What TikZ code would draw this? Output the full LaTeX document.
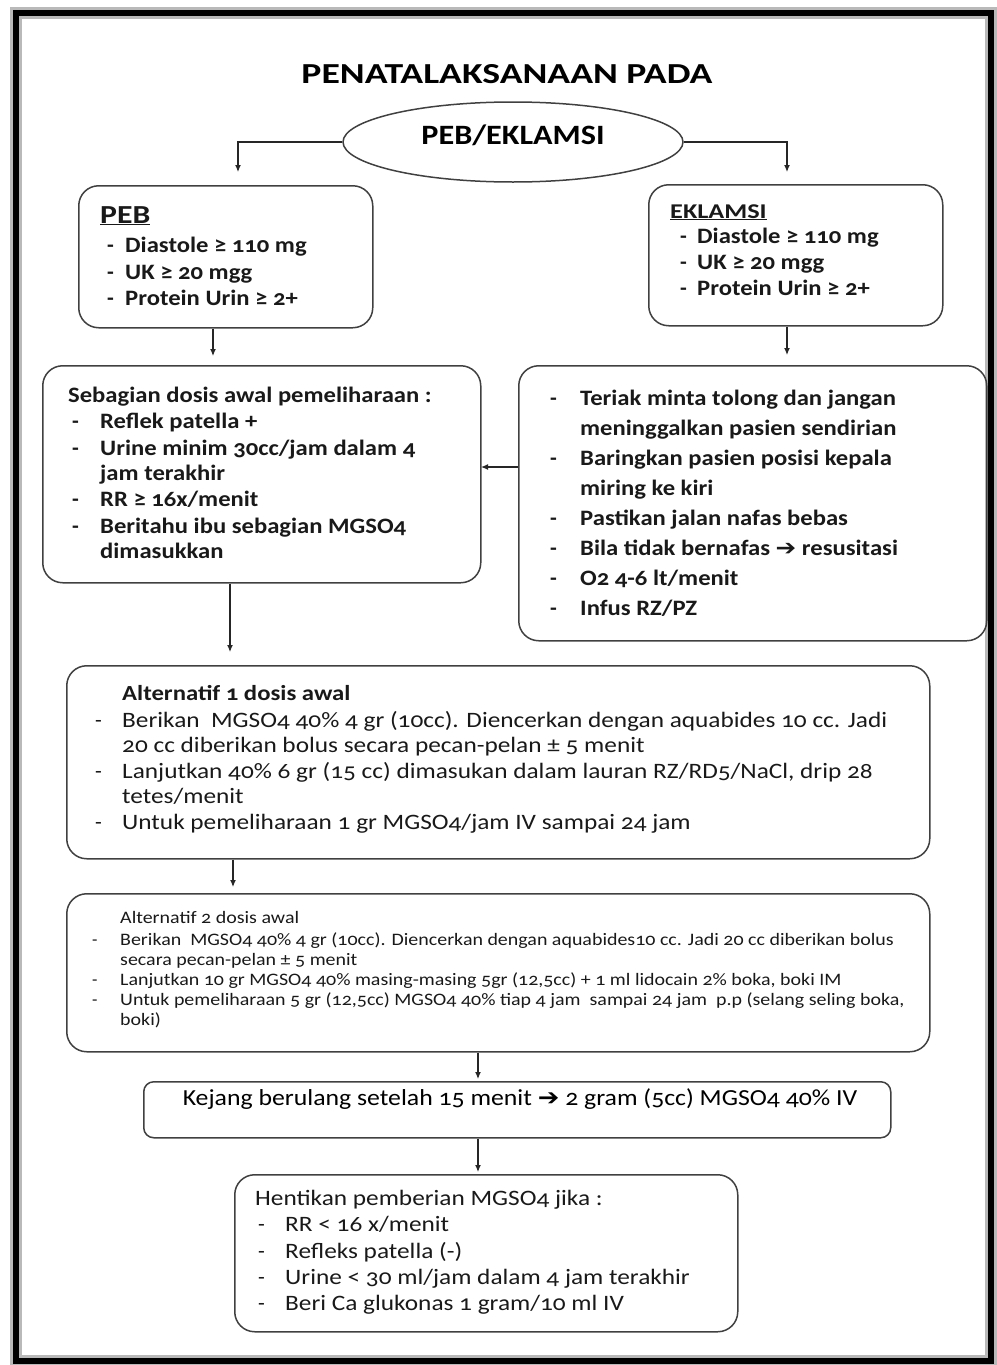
\documentclass[tikz,border=0pt]{standalone}
\usepackage{graphicx}
\usepackage{fontspec}
\setmainfont{Carlito}[Numbers=OldStyle]
\newfontfamily\symfont{DejaVu Sans}
\usetikzlibrary{arrows.meta,shapes.geometric}
\newcommand{\fs}[2]{\fontsize{#1}{#2}\selectfont}
\newcommand{\rar}{{\symfont\char"2794}}
\newcommand{\Ux}[1]{\scalebox{1.12}[1]{#1}}
\newcommand{\Lx}[1]{\scalebox{1.15}[1]{#1}}
\newcommand{\Sx}[1]{\scalebox{1.14}[1]{#1}}
\tikzset{
  box/.style={draw=black!75, line width=1.5pt, rounded corners=20pt, anchor=north west, inner sep=0pt},
  arr/.style={draw=black!85, line width=1.2pt, -{Latex[length=7pt,width=6pt]}},
  ln/.style={anchor=base west, inner sep=0pt, text=black!90},
  up/.style={ln, font=\bfseries\fs{22}{26}},
  lo/.style={ln, font=\fs{22}{26}},
  sm/.style={ln, font=\fs{17.5}{20}},
}
\begin{document}
\begin{tikzpicture}[x=1pt,y=-1pt]
\useasboundingbox (0,0) rectangle (996,1365);
% frame
\draw[gray!55, line width=12pt] (16,12.5) rectangle (991,1361);
\draw[black, line width=6pt] (16,12.5) rectangle (991,1361);

% title
\node[anchor=base, inner sep=0pt, font=\bfseries\fs{29}{34}] (title) at (507,83) {\scalebox{1.3}[1]{PENATALAKSANAAN PADA}};
\node[draw=black!75, line width=1.5pt, ellipse, minimum width=340pt, minimum height=80pt, inner sep=0pt] (root) at (513,142) {};
\node[anchor=base, inner sep=0pt, font=\bfseries\fs{28}{32}] (roott) at (513,144) {\scalebox{1.15}[1]{PEB/EKLAMSI}};

% boxes
\node[box, minimum width=294pt, minimum height=142pt] (peb) at (78,185) {};
\node[box, minimum width=294pt, minimum height=141pt] (ekl) at (648,184) {};
\node[box, minimum width=438pt, minimum height=217pt] (seb) at (42,365) {};
\node[box, minimum width=468pt, minimum height=275pt] (ter) at (518,365) {};
\node[box, minimum width=863pt, minimum height=193pt] (alt1) at (66,665) {};
\node[box, minimum width=863pt, minimum height=158pt] (alt2) at (66,893) {};
\node[box, minimum width=747pt, minimum height=56pt, rounded corners=10pt] (kej) at (143,1081) {};
\node[box, minimum width=503pt, minimum height=157pt] (hen) at (234,1174) {};

% arrow end points
\coordinate (e1) at (238,172);
\coordinate (e2) at (787,172);
\coordinate (e3) at (213,356);
\coordinate (e4) at (787,355);
\coordinate (e5) at (481,467);
\coordinate (e6) at (230,652);
\coordinate (e7) at (233,887);
\coordinate (e8) at (478,1079);
\coordinate (e9) at (478,1172);

\draw[arr] (root.west) -| (e1);
\draw[arr] (root.east) -| (e2);
\draw[arr] (e3 |- peb.south) -- (e3);
\draw[arr] (e4 |- ekl.south) -- (e4);
\draw[arr] (ter.west |- e5) -- (e5);
\draw[arr] (e6 |- seb.south) -- (e6);
\draw[arr] (e7 |- alt1.south) -- (e7);
\draw[arr] (e8 |- alt2.south) -- (e8);
\draw[arr] (e9 |- kej.south) -- (e9);

% PEB
\node[ln, font=\bfseries\fs{26}{30}] (p0) at (100,223) {\underline{\scalebox{1.22}[1]{PEB}}};
\foreach \y/\t [count=\i] in {252/{Diastole ≥ 110 mg}, 279/{UK ≥ 20 mgg}, 305/{Protein Urin ≥ 2+}}{
  \node[up] (pd\i) at (107,\y) {-};
  \node[up] (p\i) at (125,\y) {\Ux{\t}};
}
% EKLAMSI
\node[ln, font=\bfseries\fs{21}{24}] (k0) at (670,218) {\underline{\scalebox{1.25}[1]{EKLAMSI}}};
\foreach \y/\t [count=\i] in {243/{Diastole ≥ 110 mg}, 269/{UK ≥ 20 mgg}, 295/{Protein Urin ≥ 2+}}{
  \node[up] (kd\i) at (680,\y) {-};
  \node[up] (k\i) at (697,\y) {\Ux{\t}};
}
% Sebagian
\node[up] (s0) at (68,402) {\Ux{Sebagian dosis awal pemeliharaan :}};
\foreach \y in {428,455,506,533}{ \node[up] (sd\y) at (72,\y) {-}; }
\foreach \y/\t [count=\i] in {428/{Reflek patella +}, 455/{Urine minim 30cc/jam dalam 4}, 480/{jam terakhir}, 506/{RR ≥ 16x/menit}, 533/{Beritahu ibu sebagian MGSO4}, 558/{dimasukkan}}{
  \node[up] (s\i) at (100,\y) {\Ux{\t}};
}
% Teriak
\foreach \y in {405,465,525,555,585,615}{ \node[up] (td\y) at (550,\y) {-}; }
\foreach \y/\t [count=\i] in {405/{Teriak minta tolong dan jangan}, 435/{meninggalkan pasien sendirian}, 465/{Baringkan pasien posisi kepala}, 495/{miring ke kiri}, 525/{Pastikan jalan nafas bebas}, 555/{Bila tidak bernafas \rar{} resusitasi}, 585/{O2 4-6 lt/menit}, 615/{Infus RZ/PZ}}{
  \node[up] (t\i) at (580,\y) {\Ux{\t}};
}
% Alternatif 1
\node[lo, font=\bfseries\fs{21.5}{24}] (a0) at (122,700) {\scalebox{1.15}[1]{Alternatif 1 dosis awal}};
\foreach \y in {727,778,829}{ \node[lo] (ad\y) at (95,\y) {-}; }
\foreach \y/\t [count=\i] in {727/{Berikan\ \ MGSO4 40\% 4 gr (10cc). Diencerkan dengan aquabides 10 cc. Jadi}, 752/{20 cc diberikan bolus secara pecan-pelan ± 5 menit}, 778/{Lanjutkan 40\% 6 gr (15 cc) dimasukan dalam lauran RZ/RD5/NaCl, drip 28}, 803/{tetes/menit}, 829/{Untuk pemeliharaan 1 gr MGSO4/jam IV sampai 24 jam}}{
  \node[lo] (a\i) at (122,\y) {\Lx{\t}};
}
% Alternatif 2
\node[sm] (b0) at (120,923) {\Sx{Alternatif 2 dosis awal}};
\foreach \y in {945,985,1005}{ \node[sm] (bd\y) at (92,\y) {-}; }
\foreach \y/\t [count=\i] in {945/{Berikan\ \ MGSO4 40\% 4 gr (10cc). Diencerkan dengan aquabides10 cc. Jadi 20 cc diberikan bolus}, 965/{secara pecan-pelan ± 5 menit}, 985/{Lanjutkan 10 gr MGSO4 40\% masing-masing 5gr (12,5cc) + 1 ml lidocain 2\% boka, boki IM}, 1005/{Untuk pemeliharaan 5 gr (12,5cc) MGSO4 40\% tiap 4 jam\ \ sampai 24 jam\ \ p.p (selang seling boka,}, 1025/{boki)}}{
  \node[sm] (b\i) at (120,\y) {\Sx{\t}};
}
% Kejang
\node[anchor=base, inner sep=0pt, font=\fs{23}{27}] (kj) at (520,1105) {\scalebox{1.12}[1]{Kejang berulang setelah 15 menit \rar{} 2 gram (5cc) MGSO4 40\% IV}};
% Hentikan
\node[lo] (h0) at (255,1205) {\Lx{Hentikan pemberian MGSO4 jika :}};
\foreach \y/\t [count=\i] in {1231/{RR < 16 x/menit}, 1258/{Refleks patella (-)}, 1284/{Urine < 30 ml/jam dalam 4 jam terakhir}, 1310/{Beri Ca glukonas 1 gram/10 ml IV}}{
  \node[lo] (hd\i) at (258,\y) {-};
  \node[lo] (h\i) at (285,\y) {\Lx{\t}};
}
\end{tikzpicture}
\end{document}
